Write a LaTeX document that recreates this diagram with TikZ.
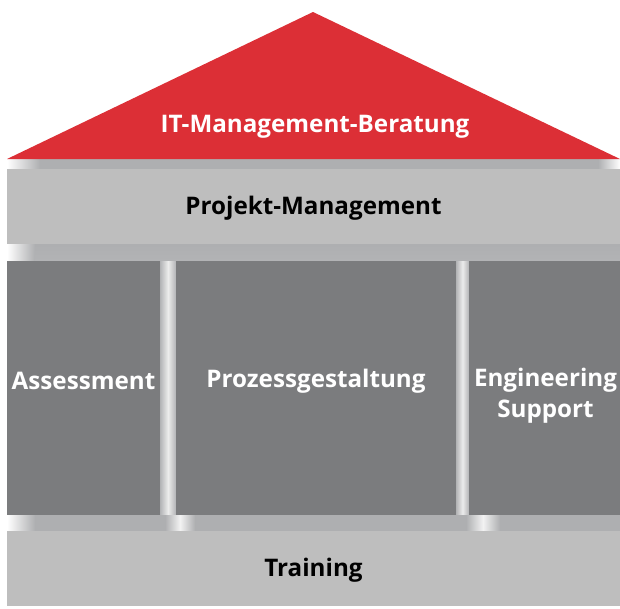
\documentclass[tikz,border=0pt]{standalone}
\usepackage{fontspec}
\setmainfont{Open Sans}
\definecolor{roofred}{HTML}{DC2F36}
\definecolor{lightbar}{HTML}{BEBEBE}
\definecolor{pillargray}{HTML}{7B7C7E}
\definecolor{shadowgray}{HTML}{AEAFB1}
\definecolor{gapgray}{HTML}{B2B3B5}
\begin{document}
\begin{tikzpicture}[x=1pt,y=-1pt,
  box/.style={draw=none,inner sep=0pt,outer sep=0pt,anchor=north west},
  lbl/.style={font=\bfseries\fontsize{24.2}{31}\selectfont,align=center,inner sep=0pt},
  whitelbl/.style={lbl,text=white},
  blacklbl/.style={lbl,text=black}]
\useasboundingbox (0,0) rectangle (620,608);
% shadow under roof
\shade[left color=white,right color=shadowgray] (7,159) rectangle (40,169);
\fill[shadowgray] (40,159) rectangle (598,169);
\shade[left color=shadowgray,right color=white] (598,159) rectangle (620,169);
% shadow under Projekt-Management
\shade[left color=white,right color=shadowgray] (7,244) rectangle (35,261);
\shade[top color=shadowgray,bottom color=gapgray] (35,244) rectangle (620,261);
% gaps between pillars
\shade[left color=gapgray,right color=gapgray,middle color=white!85!gray] (160,261) rectangle (176,515);
\shade[left color=gapgray,right color=gapgray,middle color=white!85!gray] (456,261) rectangle (469,515);
% shadow under pillars
\shade[left color=white,right color=shadowgray] (7,515) rectangle (35,531);
\fill[shadowgray] (35,515) rectangle (620,531);
\shade[left color=shadowgray,right color=shadowgray,middle color=white!90!gray] (165,515) rectangle (195,531);
\shade[left color=shadowgray,right color=shadowgray,middle color=white!90!gray] (466,515) rectangle (500,531);
% roof
\fill[roofred] (7,159) -- (313,12) -- (620,159) -- cycle;
\node[whitelbl] (roof) at (315,127) {IT-Management-Beratung};
% Projekt-Management
\node[box,fill=lightbar,minimum width=613pt,minimum height=75pt] (pm) at (7,169) {};
\node[blacklbl] (pmtext) at ([yshift=-1.5]pm.center) {Projekt-Management};
% pillars
\node[box,fill=pillargray,minimum width=153pt,minimum height=254pt] (ass) at (7,261) {};
\node[whitelbl] (asstext) at (ass.center |- 0,381) {Assessment};
\node[box,fill=pillargray,minimum width=280pt,minimum height=254pt] (proz) at (176,261) {};
\node[whitelbl] (proztext) at (proz.center |- 0,381) {Prozessgestaltung};
\node[box,fill=pillargray,minimum width=151pt,minimum height=254pt] (eng) at (469,261) {};
\node[whitelbl] (engtext) at ([xshift=1]eng.center |- 0,396) {Engineering\\Support};
% Training
\node[box,fill=lightbar,minimum width=613pt,minimum height=75pt] (train) at (7,531) {};
\node[blacklbl] (traintext) at ([yshift=-2]train.center) {Training};
\end{tikzpicture}
\end{document}
